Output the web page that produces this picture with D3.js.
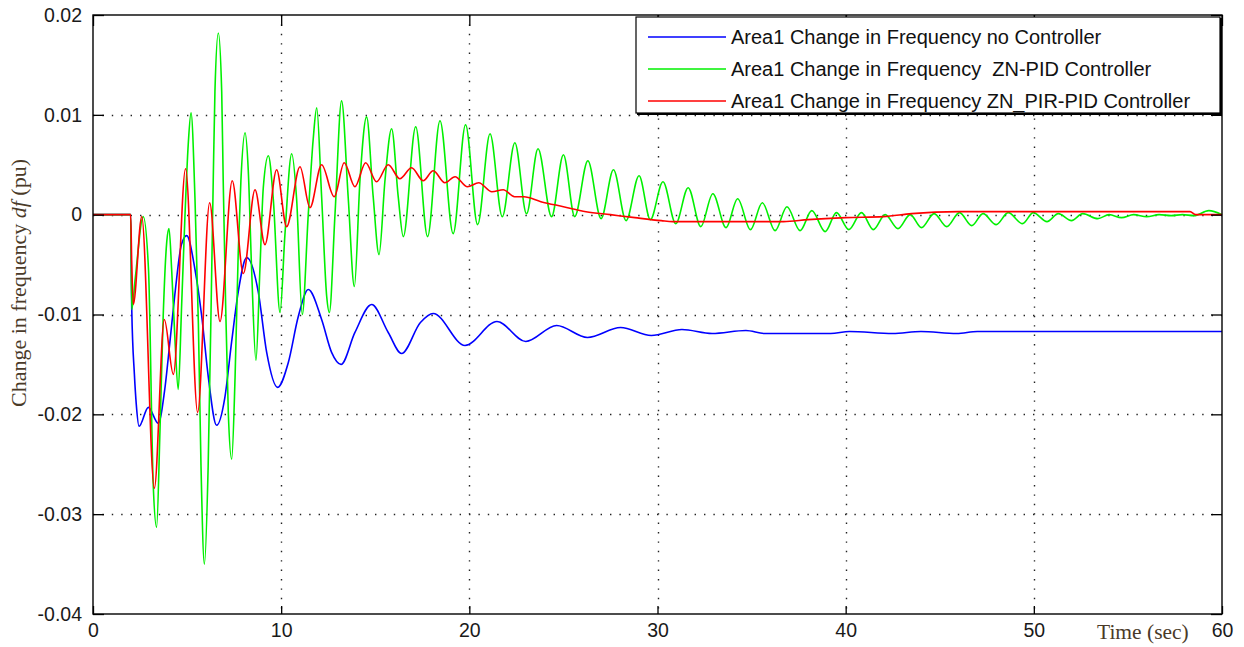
<!DOCTYPE html>
<html>
<head>
<meta charset="utf-8">
<script src="https://cdn.jsdelivr.net/npm/d3@7/dist/d3.min.js"></script>
<style>
  html, body { margin: 0; padding: 0; background: #fff; overflow: hidden; }
  svg { display: block; }
  svg text { font-family: "Liberation Sans", Arial, sans-serif; }
</style>
</head>
<body>
<div id="chart"></div>
<script>
// Axis ticks
const xTicks = [0, 10, 20, 30, 40, 50, 60];
const yTicks = [-0.04, -0.03, -0.02, -0.01, 0, 0.01, 0.02];

// Legend labels
const seriesNames = [
  'Area1 Change in Frequency no Controller',
  'Area1 Change in Frequency  ZN-PID Controller',
  'Area1 Change in Frequency ZN_PIR-PID Controller'
];

// [time (sec), df (pu)]
const noController = [
  [0, 0], [2.0, 0], [2.06, -0.0095], [2.2, -0.016], [2.3, -0.019], [2.45, -0.0212],
  [2.94, -0.0193], [3.47, -0.0209], [3.8, -0.0177], [4.09, -0.0127], [4.35, -0.008],
  [4.7, -0.003], [4.98, -0.0021], [5.42, -0.0055], [5.78, -0.0102], [6.13, -0.0163],
  [6.57, -0.0211], [7.0, -0.0184], [7.37, -0.0127], [7.72, -0.0077], [8.17, -0.0043],
  [8.78, -0.0077], [9.23, -0.0138], [9.81, -0.0173], [10.38, -0.0148], [10.91, -0.0102],
  [11.44, -0.0075], [12.15, -0.0105], [12.68, -0.0138], [13.18, -0.015], [13.92, -0.0118],
  [14.81, -0.009], [15.69, -0.0118], [16.4, -0.0139], [17.4, -0.0108], [18.08, -0.0099],
  [19.77, -0.0131], [21.47, -0.0107], [23.0, -0.0127], [24.64, -0.0111], [26.28, -0.0123],
  [28.04, -0.0113], [29.67, -0.0121], [31.3, -0.0115], [32.9, -0.0119], [34.7, -0.0116],
  [35.7, -0.0119], [39.2, -0.0119], [40.2, -0.0117], [42.5, -0.0119], [44, -0.0117],
  [45.9, -0.0119], [47, -0.0117], [60, -0.0117]
];

const znPid = [
  [0, 0], [2.0, 0], [2.06, -0.0095], [2.25, -0.0063], [2.67, -0.0002], [2.95, -0.0055],
  [3.2, -0.027], [3.38, -0.0313], [3.56, -0.0216], [3.73, -0.0102], [3.92, -0.0027],
  [4.04, -0.0014], [4.18, -0.0055], [4.36, -0.0127], [4.53, -0.0175], [4.71, -0.0091],
  [4.89, 0], [5.06, 0.007], [5.21, 0.0102], [5.42, 0.0016], [5.6, -0.0109], [5.74, -0.0252],
  [5.92, -0.035], [6.12, -0.0252], [6.31, -0.0055], [6.39, 0.0034], [6.48, 0.0123],
  [6.66, 0.0182], [6.84, 0.0123], [6.92, 0.0034], [7.05, -0.0091], [7.19, -0.0198],
  [7.37, -0.0245], [7.55, -0.0163], [7.72, -0.0037], [7.86, 0.0034], [8.08, 0.0082],
  [8.25, 0.0045], [8.43, -0.0055], [8.66, -0.0146], [8.87, -0.0055], [9.05, 0.0027],
  [9.32, 0.0059], [9.58, 0.0016], [9.94, -0.0098], [10.2, -0.002], [10.56, 0.0061],
  [10.82, 0.0016], [11.12, -0.01], [11.44, 0], [11.7, 0.0075], [11.89, 0.0107],
  [12.15, 0.0018], [12.42, -0.0082], [12.56, -0.0098], [12.86, 0], [13.21, 0.0114],
  [13.56, 0.0018], [13.89, -0.0072], [14.19, 0.0035], [14.54, 0.0098], [14.89, 0.0018],
  [15.2, -0.004], [15.52, 0.0035], [15.87, 0.0086], [16.22, 0.0018], [16.49, -0.0022],
  [17.15, 0.0088], [17.78, -0.0022], [18.44, 0.0094], [19.14, -0.0019], [19.8, 0.009],
  [20.44, -0.001], [21.1, 0.0081], [21.75, -0.0002], [22.42, 0.0072], [23.04, 0.0001],
  [23.65, 0.0066], [24.37, -0.0002], [25.0, 0.006], [25.6, -0.0002], [26.3, 0.0054],
  [27.0, -0.0004], [27.66, 0.0045], [28.33, -0.0006], [29.02, 0.0039], [29.62, -0.0005],
  [30.29, 0.0033], [30.97, -0.0009], [31.63, 0.0027], [32.3, -0.0012], [32.94, 0.0021],
  [33.64, -0.0013], [34.26, 0.0016], [34.94, -0.0015], [35.57, 0.0012], [36.25, -0.0016],
  [36.88, 0.0008], [37.58, -0.0016], [38.2, 0.0004], [38.91, -0.0017], [39.51, 0.0002],
  [40.17, -0.0015], [40.84, 0.0002], [41.47, -0.0015], [42.1, 0], [42.78, -0.0014],
  [43.43, 0], [44.03, -0.0013], [44.7, 0.0001], [45.37, -0.0012], [46.05, 0.0002],
  [46.7, -0.0011], [47.3, 0.0001], [48.0, -0.001], [48.64, 0.0002], [49.4, -0.0009],
  [49.97, 0.0002], [50.7, -0.0007], [51.3, 0.0001], [52.0, -0.0006], [52.6, 0.0001],
  [53.4, -0.0004], [54.0, 0], [54.66, -0.0003], [55.3, 0], [56.0, -0.0002], [56.66, 0],
  [57.3, -0.0001], [57.9, 0], [58.5, -0.0001], [59.3, 0.0004], [60, 0]
];

const znPirPid = [
  [0, 0], [2.0, 0], [2.06, -0.005], [2.14, -0.009], [2.59, -0.0002], [3.26, -0.0274],
  [3.79, -0.0105], [4.27, -0.016], [4.92, 0.0046], [5.56, -0.0198], [6.2, 0.0012],
  [6.75, -0.0107], [7.4, 0.0034], [7.99, -0.0059], [8.61, 0.0025], [9.14, -0.003],
  [9.76, 0.0045], [10.29, -0.0012], [11.0, 0.0048], [11.53, 0.0007], [12.15, 0.005],
  [12.82, 0.0018], [13.35, 0.0052], [13.92, 0.0028], [14.49, 0.0052], [15.07, 0.0033],
  [15.69, 0.005], [16.31, 0.0036], [16.93, 0.0047], [17.55, 0.0034], [18.08, 0.0044],
  [18.7, 0.0032], [19.24, 0.0038], [19.9, 0.0028], [20.5, 0.0032], [21.2, 0.0023],
  [21.8, 0.0025], [22.4, 0.0018], [22.9, 0.0018], [23.8, 0.0013], [25, 0.0008],
  [26.2, 0.0003], [27.5, 0], [28.8, -0.0003], [30.2, -0.0006], [30.8, -0.0007],
  [36.7, -0.0007], [38, -0.0005], [40, -0.0003], [42, -0.0002], [43.5, 0.0001],
  [46, 0.0003], [58.3, 0.0003], [58.6, 0], [60, 0]
];

const width = 1244;
const height = 647;
const margin = { left: 93, top: 15, right: 22, bottom: 33 };
const innerWidth = width - margin.left - margin.right;
const innerHeight = height - margin.top - margin.bottom;

const svg = d3.select('#chart').append('svg')
  .attr('width', width)
  .attr('height', height);

const g = svg.append('g')
  .attr('transform', `translate(${margin.left},${margin.top})`);

const x = d3.scaleLinear().domain([0, 60]).range([0, innerWidth]);
const y = d3.scaleLinear().domain([-0.04, 0.02]).range([innerHeight, 0]);

// Dotted grid
const grid = g.append('g')
  .attr('stroke', '#222')
  .attr('stroke-width', 1.4)
  .attr('stroke-dasharray', '1.4,8');
grid.selectAll('.vg')
  .data(xTicks.slice(1, -1))
  .join('line')
  .attr('x1', d => Math.round(x(d)) + 0.5).attr('x2', d => Math.round(x(d)) + 0.5)
  .attr('y1', 0).attr('y2', innerHeight);
grid.selectAll('.hg')
  .data(yTicks.slice(1, -1))
  .join('line')
  .attr('x1', 0).attr('x2', innerWidth)
  .attr('y1', d => Math.round(y(d)) + 0.5).attr('y2', d => Math.round(y(d)) + 0.5);

// Curves (blue, green, red drawn in that order)
const line = d3.line()
  .x(d => x(d[0]))
  .y(d => y(d[1]))
  .curve(d3.curveMonotoneX);

const colors = ['#0000ff', '#00f000', '#ff0000'];
[noController, znPid, znPirPid].forEach((s, i) => {
  g.append('path')
    .datum(s)
    .attr('fill', 'none')
    .attr('stroke', colors[i])
    .attr('stroke-width', 1.6)
    .attr('stroke-linejoin', 'round')
    .attr('d', line);
});

// Axes with inward ticks on all four sides
const fmtY = d => (d === 0 ? '0' : d.toFixed(2));
const styleAxis = sel => {
  sel.select('.domain').remove();
  sel.selectAll('line').attr('stroke', '#000').attr('stroke-width', 1.3);
  sel.selectAll('text')
    .attr('fill', '#1a1a1a')
    .style('font-size', '19.5px');
};

g.append('g')
  .call(d3.axisLeft(y).tickValues(yTicks).tickFormat(fmtY).tickSize(-11).tickPadding(11))
  .call(styleAxis);
g.append('g')
  .attr('transform', `translate(${innerWidth},0)`)
  .call(d3.axisRight(y).tickValues(yTicks).tickFormat('').tickSize(-11))
  .call(styleAxis);
g.append('g')
  .attr('transform', `translate(0,${innerHeight})`)
  .call(d3.axisBottom(x).tickValues(xTicks).tickFormat(d3.format('d')).tickSize(-8).tickPadding(9))
  .call(styleAxis);
g.append('g')
  .call(d3.axisTop(x).tickValues(xTicks).tickFormat('').tickSize(-11))
  .call(styleAxis);

// Box
g.append('rect')
  .attr('width', innerWidth)
  .attr('height', innerHeight)
  .attr('fill', 'none')
  .attr('stroke', '#000')
  .attr('stroke-width', 1.4);

// Legend
const legend = g.append('g').attr('transform', `translate(${636 - margin.left},${17 - margin.top})`);
legend.append('rect')
  .attr('width', 584).attr('height', 96)
  .attr('fill', '#fff')
  .attr('stroke', '#000').attr('stroke-width', 1.2);
legend.append('path')
  .attr('d', 'M585,1V97H1')
  .attr('fill', 'none').attr('stroke', '#000').attr('stroke-width', 2);
const items = legend.selectAll('.item')
  .data(seriesNames)
  .join('g')
  .attr('transform', (d, i) => `translate(0,${20 + i * 32})`);
items.append('line')
  .attr('x1', 12).attr('x2', 90)
  .attr('stroke', (d, i) => colors[i])
  .attr('stroke-width', 1.6);
items.append('text')
  .attr('x', 95)
  .attr('dy', '0.35em')
  .attr('fill', '#111')
  .style('font-size', '20px')
  .style('white-space', 'pre')
  .text(d => d);

// Axis titles
svg.append('text')
  .attr('transform', 'translate(26,283) rotate(-90)')
  .attr('text-anchor', 'middle')
  .attr('fill', '#4a3a28')
  .style('font-family', '"Liberation Serif", "Times New Roman", serif')
  .style('font-size', '22px')
  .call(t => {
    t.append('tspan').text('Change in frequency ');
    t.append('tspan').style('font-style', 'italic').text('df');
    t.append('tspan').text(' (pu)');
  });

svg.append('text')
  .attr('x', 1097)
  .attr('y', 639)
  .attr('fill', '#4a3a28')
  .style('font-family', '"Liberation Serif", "Times New Roman", serif')
  .style('font-size', '21.5px')
  .text('Time (sec)');
</script>
</body>
</html>
